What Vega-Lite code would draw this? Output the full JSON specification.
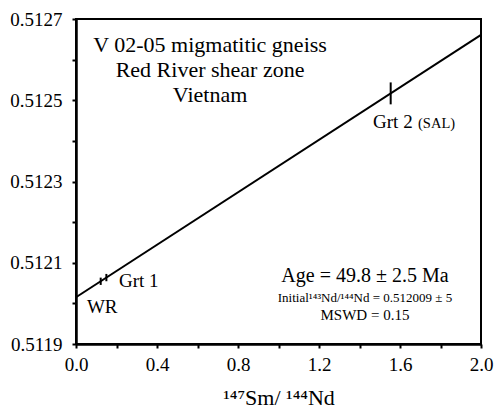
{
  "$schema": "https://vega.github.io/schema/vega-lite/v6.json",
  "width": 405,
  "height": 325,
  "autosize": {"type": "none"},
  "padding": {"left": 76, "top": 19, "right": 13, "bottom": 66},
  "background": "white",
  "config": {
    "font": "Liberation Serif",
    "view": {"stroke": "black", "strokeWidth": 2},
    "axis": {"grid": false, "domainColor": "black", "tickColor": "black", "labelColor": "black", "titleColor": "black", "labelFont": "Liberation Serif", "titleFont": "Liberation Serif"}
  },
  "datasets": {
    "isochron": [
      {"ratio": 0.0, "nd": 0.512015},
      {"ratio": 2.0, "nd": 0.512661}
    ],
    "samples": [
      {"sample": "Grt 1a", "ratio": 0.122, "lo": 0.5120454, "hi": 0.5120634},
      {"sample": "Grt 1b", "ratio": 0.150, "lo": 0.5120545, "hi": 0.5120725},
      {"sample": "Grt 2", "ratio": 1.554, "lo": 0.5124899, "hi": 0.5125439}
    ],
    "header": [
      {"ratio": 0.662, "nd": 0.5126194, "label": ["V 02-05 migmatitic gneiss", "Red River shear zone", "Vietnam"]}
    ],
    "pointLabels": [
      {"ratio": 0.212, "nd": 0.5120404, "label": "Grt 1"},
      {"ratio": 0.054, "nd": 0.5119764, "label": "WR"},
      {"ratio": 1.467, "nd": 0.512432, "label": "Grt 2"}
    ],
    "smallLabels": [
      {"ratio": 1.689, "nd": 0.512432, "label": "(SAL)"}
    ],
    "age": [
      {"ratio": 1.427, "nd": 0.5120528, "label": "Age = 49.8 ± 2.5 Ma"}
    ],
    "initial": [
      {"ratio": 1.427, "nd": 0.5120035, "label": "Initial¹⁴³Nd/¹⁴⁴Nd = 0.512009 ± 5"}
    ],
    "mswd": [
      {"ratio": 1.427, "nd": 0.5119591, "label": "MSWD = 0.15"}
    ]
  },
  "layer": [
    {
      "data": {"name": "isochron"},
      "mark": {"type": "line", "color": "black", "strokeWidth": 2},
      "encoding": {
        "x": {"field": "ratio", "type": "quantitative", "scale": {"domain": [0, 2], "nice": false, "zero": false},
          "axis": {"orient": "bottom", "values": [0, 0.2, 0.4, 0.6, 0.8, 1.0, 1.2, 1.4, 1.6, 1.8, 2.0],
            "labelExpr": "round(datum.value*10)%4==0 ? format(datum.value, '.1f') : ''",
            "labelFontSize": 19, "labelPadding": 7, "labelFlush": false, "labelOverlap": false,
            "tickSize": 4, "tickWidth": 2, "domainWidth": 2.5,
            "encode": {"ticks": {"update": {
              "y": {"condition": {"test": "round(datum.value*10)%4==0", "value": -3}, "value": -4},
              "y2": {"condition": {"test": "round(datum.value*10)%4==0", "value": 4}, "value": 0}
            }}},
            "title": "¹⁴⁷Sm/ ¹⁴⁴Nd", "titleFontSize": 22, "titleFontWeight": "normal", "titlePadding": 13}},
        "y": {"field": "nd", "type": "quantitative", "scale": {"domain": [0.5119, 0.5127], "nice": false, "zero": false},
          "axis": {"orient": "left", "values": [0.5119, 0.512, 0.5121, 0.5122, 0.5123, 0.5124, 0.5125, 0.5126, 0.5127],
            "labelExpr": "round(datum.value*10000)%2==1 ? format(datum.value, '.4f') : ''",
            "labelFontSize": 19, "labelPadding": 10, "labelFlush": false, "labelOverlap": false,
            "tickSize": 4, "tickWidth": 2, "domainWidth": 2.5,
            "encode": {"ticks": {"update": {
              "x": {"condition": {"test": "round(datum.value*10000)%2==1", "value": 3}, "value": 4},
              "x2": {"condition": {"test": "round(datum.value*10000)%2==1", "value": -4}, "value": 0}
            }}},
            "title": null}}
      }
    },
    {
      "data": {"name": "samples"},
      "mark": {"type": "rule", "color": "black", "strokeWidth": 2},
      "encoding": {
        "x": {"field": "ratio", "type": "quantitative"},
        "y": {"field": "lo", "type": "quantitative"},
        "y2": {"field": "hi"}
      }
    },
    {
      "data": {"name": "header"},
      "mark": {"type": "text", "font": "Liberation Serif", "fontSize": 22, "align": "center", "baseline": "alphabetic", "lineHeight": 25, "color": "black"},
      "encoding": {
        "x": {"field": "ratio", "type": "quantitative"},
        "y": {"field": "nd", "type": "quantitative"},
        "text": {"field": "label"}
      }
    },
    {
      "data": {"name": "pointLabels"},
      "mark": {"type": "text", "font": "Liberation Serif", "fontSize": 19, "align": "left", "baseline": "alphabetic", "color": "black"},
      "encoding": {
        "x": {"field": "ratio", "type": "quantitative"},
        "y": {"field": "nd", "type": "quantitative"},
        "text": {"field": "label"}
      }
    },
    {
      "data": {"name": "smallLabels"},
      "mark": {"type": "text", "font": "Liberation Serif", "fontSize": 14.5, "align": "left", "baseline": "alphabetic", "color": "black"},
      "encoding": {
        "x": {"field": "ratio", "type": "quantitative"},
        "y": {"field": "nd", "type": "quantitative"},
        "text": {"field": "label"}
      }
    },
    {
      "data": {"name": "age"},
      "mark": {"type": "text", "font": "Liberation Serif", "fontSize": 20, "align": "center", "baseline": "alphabetic", "color": "black"},
      "encoding": {
        "x": {"field": "ratio", "type": "quantitative"},
        "y": {"field": "nd", "type": "quantitative"},
        "text": {"field": "label"}
      }
    },
    {
      "data": {"name": "initial"},
      "mark": {"type": "text", "font": "Liberation Serif", "fontSize": 13, "align": "center", "baseline": "alphabetic", "color": "black"},
      "encoding": {
        "x": {"field": "ratio", "type": "quantitative"},
        "y": {"field": "nd", "type": "quantitative"},
        "text": {"field": "label"}
      }
    },
    {
      "data": {"name": "mswd"},
      "mark": {"type": "text", "font": "Liberation Serif", "fontSize": 15, "align": "center", "baseline": "alphabetic", "color": "black"},
      "encoding": {
        "x": {"field": "ratio", "type": "quantitative"},
        "y": {"field": "nd", "type": "quantitative"},
        "text": {"field": "label"}
      }
    }
  ]
}
